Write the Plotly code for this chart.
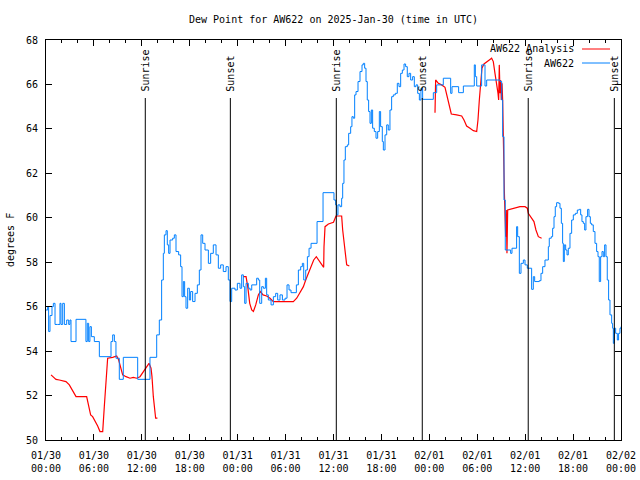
import plotly.graph_objects as go
import pandas as pd

# ---------------- data ----------------
base_time = "2025-01-30 00:00"

blue_hours = [0, 0.21, 0.33, 0.5, 0.75, 0.92, 1.13, 1.46, 1.75, 1.88, 2.09, 2.3, 2.59, 2.84, 3.0, 3.13,
              3.76, 5.0, 5.17, 5.34, 5.5, 5.68, 6.05, 6.68, 8.14, 8.35, 8.56, 8.76, 9.18, 9.68, 11.48,
              13.02, 13.86, 14.19, 14.48, 14.69, 14.82, 15.03, 15.19, 15.36, 15.53, 15.86, 16.07, 16.28,
              16.61, 16.86, 17.03, 17.2, 17.36, 17.53, 17.74, 17.95, 18.11, 18.36, 18.66, 18.95, 19.2,
              19.41, 19.62, 19.91, 20.33, 20.62, 20.95, 21.29, 21.58, 21.87, 22.2, 22.54, 22.83, 23.04,
              23.25, 23.67, 23.96, 24.29, 24.5, 24.71, 24.88, 25.05, 25.34, 25.55, 25.76, 26.38, 26.59,
              26.76, 27.01, 27.22, 27.47, 27.63, 27.84, 28.18, 28.47, 28.76, 29.01, 29.3, 29.6, 29.93,
              30.18, 30.43, 30.68, 31.35, 31.6, 31.89, 32.1, 32.27, 32.52, 32.73, 32.94, 33.19, 33.94,
              34.69, 36.06, 36.27, 36.4, 36.56, 36.81, 37.02, 37.15, 37.31, 37.48, 37.73, 37.9, 38.15,
              38.31, 38.48, 38.65, 38.82, 39.07, 39.32, 39.57, 39.73, 39.9, 40.07, 40.23, 40.4, 40.57,
              40.74, 40.9, 41.11, 41.32, 41.53, 41.74, 41.9, 42.11, 42.24, 42.45, 42.66, 42.86, 43.07,
              43.28, 43.49, 43.74, 43.99, 44.2, 44.41, 44.62, 44.83, 45.03, 45.24, 45.45, 45.66, 45.91,
              46.12, 46.33, 46.54, 46.75, 46.95, 47.16, 48.5, 48.92, 49.75, 50.67, 50.84, 51.67, 52.26,
              53.63, 53.76, 53.93, 54.55, 54.97, 55.18, 56.85, 57.06, 57.18, 57.35, 57.51, 58.18, 58.35,
              58.93, 59.06, 59.27, 59.48, 59.77, 59.98, 60.27, 60.81, 61.02, 61.19, 61.77, 61.98, 62.19,
              62.48, 62.9, 63.02, 63.27, 63.44, 63.61, 63.77, 63.94, 64.19, 64.36, 64.53, 64.69, 64.78,
              64.9, 65.07, 65.24, 65.4, 65.61, 65.82, 66.03, 66.28, 66.53, 66.78, 66.95, 67.11, 67.28,
              67.45, 67.61, 67.82, 67.99, 68.16, 68.32, 68.53, 68.74, 68.95, 69.12, 69.28, 69.45, 69.62,
              69.78, 69.95, 70.12, 70.28, 70.45, 70.62, 70.83, 70.95, 71.04, 71.16, 71.33, 71.54, 71.7,
              71.87, 72.0]
blue_vals = [55.85, 56.0, 54.88, 55.6, 56.0, 56.15, 55.2, 55.2, 56.15, 55.2, 56.15, 55.2, 55.4, 55.2, 55.4, 54.43,
             55.43, 54.43, 55.25, 54.43, 55.1, 54.65, 54.43, 53.75, 54.43, 54.73, 54.43, 53.68, 52.73, 53.72, 52.73,
             53.72, 54.73, 55.4, 57.2, 58.4, 59.23, 59.42, 58.78, 58.4, 59.0, 59.08, 59.23, 58.48,
             58.33, 57.8, 56.45, 57.13, 56.45, 55.93, 56.83, 56.3, 56.68, 56.23, 56.6, 56.98, 57.65,
             59.23, 58.85, 58.55, 57.95, 58.4, 58.78, 58.33, 57.73, 57.88, 57.58, 57.8, 57.2, 56.23,
             56.83, 56.75, 57.05, 56.83, 57.43, 56.9, 56.15, 57.05, 56.83, 56.75, 56.98, 57.28, 57.2,
             56.15, 56.9, 56.83, 57.28, 56.53, 56.3, 56.08, 56.45, 56.6, 56.3, 56.53, 56.3, 56.38,
             56.98, 56.75, 56.63, 56.98, 57.65, 57.8, 57.95, 57.2, 57.65, 58.25, 58.63, 58.85, 59.83,
             61.13, 60.8, 60.58, 60.13, 60.58, 60.5, 60.88, 61.55, 62.6, 63.2, 63.28, 63.8, 64.1,
             64.55, 64.48, 65.53, 65.68, 66.13, 66.58, 66.88, 66.95, 66.73, 66.13, 65.3, 64.78, 64.25,
             64.85, 64.03, 63.88, 63.58, 63.88, 64.78, 64.1, 63.43, 63.05, 63.73, 64.18, 63.95, 64.85,
             65.45, 65.53, 65.6, 66.05, 65.9, 66.5, 66.65, 66.92, 66.8, 66.35, 66.5, 66.2, 66.35,
             65.9, 65.98, 65.6, 65.3, 65.83, 65.33, 65.63, 65.98, 66.28, 65.6, 65.9, 65.63, 65.93,
             66.88, 66.35, 65.93, 66.88, 65.93, 66.2, 66.13, 65.3, 63.65, 60.8, 58.55, 58.4, 58.63,
             59.6, 59.15, 57.5, 57.95, 58.1, 57.88, 57.73, 56.78, 57.35, 57.13, 57.17, 57.5, 57.8,
             58.1, 58.7, 59.08, 59.15, 59.53, 60.05, 60.5, 60.68, 60.65, 60.43, 59.75, 58.85, 58.03,
             58.78, 58.55, 58.33, 58.63, 59.3, 59.9, 60.13, 60.2, 60.35, 60.38, 60.13, 59.83, 59.75,
             59.45, 60.05, 60.38, 60.05, 59.75, 59.68, 59.38, 58.85, 58.48, 58.25, 57.13, 58.25, 58.48,
             58.25, 58.78, 58.25, 57.2, 56.3, 55.63, 55.25, 55.03, 54.35, 55.03, 54.8, 54.5, 54.8,
             55.03, 55.1]

# None marks a gap in the analysis series
red_hours = [0.63, 0.92, 1.25, 1.67, 2.09, 2.5, 2.92, 3.34, 3.76, 5.09, 5.34, 5.59, 5.84, 6.18, 6.47, 6.76,
             7.1, 7.3, 7.51, 7.72, 8.35, 8.85, 9.1, 9.35, 9.6, 10.02, 10.52, 10.93, 11.35, 11.77, 12.19,
             12.6, 12.9, 13.15, 13.27, 13.44, 13.61, 13.73, 13.95,
             None,
             24.67, 25.05, 25.26, 25.51, 25.76, 25.97, 26.26, 26.59, 26.84, 27.18, 27.63, 28.05, 28.47,
             30.97, 31.39, 31.81, 32.23, 32.52, 32.85, 33.19, 33.52, 33.85, 34.19, 34.52, 34.77, 34.81,
             34.94, 35.36, 35.77, 36.0, 36.31, 37.02, 37.15, 37.31, 37.48, 37.65, 37.98,
             None,
             48.71, 48.79, 49.13, 49.54, 49.96, 50.25, 50.5, 50.75, 51.42, 52.05, 52.34, 52.67, 53.09,
             53.51, 53.93, 54.09, 54.26, 54.43, 54.59, 54.84, 55.18, 55.51, 55.8, 56.01, 56.22, 56.43,
             56.6, 56.68, 56.76, 56.85, 56.93, 57.01, 57.1, 57.18, 57.26, 57.39, 57.47, 57.56, 57.64,
             57.72, 57.81, 58.1, 58.72, 59.35, 59.98, 60.27, 60.39, 60.81, 61.1, 61.35, 61.65, 62.06]
red_vals = [52.93, 52.85, 52.73, 52.7, 52.67, 52.63, 52.48, 52.22, 51.95, 51.95, 51.5, 51.13, 51.05, 50.83, 50.63, 50.38,
            50.38, 51.5, 52.7, 53.68, 53.72, 53.78, 53.6, 53.3, 52.93, 52.85, 52.78, 52.82, 52.78, 52.85, 53.08,
            53.3, 53.45, 53.23, 52.85, 51.95, 51.5, 50.98, 50.98,
            None,
            57.35, 57.35, 56.9, 56.15, 55.85, 55.78, 56.08, 56.53, 56.68, 56.53, 56.48, 56.38, 56.23,
            56.23, 56.38, 56.63, 56.9, 57.2, 57.5, 57.8, 58.1, 58.25, 58.07, 57.88, 57.77, 58.7,
            59.6, 59.72, 59.75, 59.8, 60.08, 60.08, 59.45, 58.85, 58.4, 57.88, 57.83,
            None,
            64.73, 66.2, 66.05, 65.98, 65.87, 65.45, 65.0, 64.67, 64.63, 64.58, 64.4, 64.13, 64.03,
            63.92, 63.88, 64.4, 65.3, 66.2, 66.73, 66.92, 67.03, 67.1, 67.18, 67.03, 66.5, 66.05,
            65.6, 65.3, 66.88, 65.6, 66.2, 65.3, 66.05, 65.3, 63.2, 61.25, 60.2, 59.15, 60.35,
            58.4, 60.35, 60.38, 60.43, 60.5, 60.5, 60.43, 60.2, 59.98, 59.83, 59.45, 59.15, 59.08]

sun_labels = ["Sunrise", "Sunset", "Sunrise", "Sunset", "Sunrise", "Sunset"]
sun_times = ["2025-01-30 12:26", "2025-01-30 23:05", "2025-01-31 12:21",
             "2025-01-31 23:07", "2025-02-01 12:23", "2025-02-01 23:10"]

series_names = ["AW622 Analysis", "AW622"]
title_text = "Dew Point for AW622 on 2025-Jan-30 (time in UTC)"
y_title = "degrees F"

# ---------------- build ----------------
t0 = pd.Timestamp(base_time)
def to_times(hours):
    return [None if h is None else t0 + pd.Timedelta(hours=h) for h in hours]

FONT = "DejaVu Sans Mono"
RED = "#ff0000"
BLUE = "#0080ff"

fig = go.Figure()
fig.add_trace(go.Scatter(x=to_times(red_hours), y=red_vals, mode="lines",
                         line=dict(color=RED, width=1.2), name=series_names[0],
                         connectgaps=False))
fig.add_trace(go.Scatter(x=to_times(blue_hours), y=blue_vals, mode="lines",
                         line=dict(color=BLUE, width=1, shape="hv"), name=series_names[1]))

line_top = 65.39
for lab, t in zip(sun_labels, sun_times):
    fig.add_shape(type="line", xref="x", yref="y", x0=t, x1=t, y0=50, y1=line_top,
                  line=dict(color="black", width=1))
    fig.add_annotation(x=t, y=65.6, xref="x", yref="y", text=lab, textangle=-90,
                       showarrow=False, xanchor="center", yanchor="bottom",
                       font=dict(family=FONT, size=10, color="black"))

# manual gnuplot-style legend (text then sample line)
leg_rows = [(0.9775, RED), (0.9425, BLUE)]
for name, (yy, col) in zip(series_names, leg_rows):
    fig.add_annotation(x=0.9217, y=yy, xref="paper", yref="paper", text=name,
                       showarrow=False, xanchor="right", yanchor="middle",
                       font=dict(family=FONT, size=10, color="black"))
    fig.add_shape(type="line", xref="paper", yref="paper", x0=0.9322, x1=0.9809,
                  y0=yy, y1=yy, line=dict(color=col, width=1))

fig.add_annotation(x=-0.0626, y=0.5, xref="paper", yref="paper", text=y_title,
                   textangle=-90, showarrow=False, xanchor="center", yanchor="middle",
                   font=dict(family=FONT, size=10, color="black"))

fig.update_layout(
    width=640, height=480,
    margin=dict(l=46, r=19, t=40, b=40),
    paper_bgcolor="white", plot_bgcolor="white",
    showlegend=False,
    title=dict(text=title_text, x=0.5, xref="paper", y=1 - 19 / 480, yref="container",
               xanchor="center", yanchor="middle",
               font=dict(family=FONT, size=10, color="black")),
    font=dict(family=FONT, size=10, color="black"),
)
fig.update_xaxes(
    type="date", range=["2025-01-30 00:00", "2025-02-02 00:00"],
    dtick=6 * 3600 * 1000, tick0="2025-01-30 00:00", tickformat="%m/%d<br>%H:%M",
    ticks="inside", ticklen=6, tickcolor="black", mirror="allticks",
    showline=True, linecolor="black", linewidth=1, showgrid=False, zeroline=False,
    minor=dict(ticks="inside", ticklen=3, dtick=2 * 3600 * 1000, tickcolor="black", showgrid=False),
    tickfont=dict(family=FONT, size=10, color="black"),
    ticklabelstandoff=6, automargin=False,
)
fig.update_yaxes(
    range=[50, 68], dtick=2, tick0=50,
    ticks="inside", ticklen=6, tickcolor="black", mirror="allticks",
    showline=True, linecolor="black", linewidth=1, showgrid=False, zeroline=False,
    tickfont=dict(family=FONT, size=10, color="black"),
    ticklabelstandoff=5, automargin=False,
)

fig.write_html("out.html",
               config={"displayModeBar": False},
               post_script="document.body.style.margin='0';document.body.style.padding='0';")
